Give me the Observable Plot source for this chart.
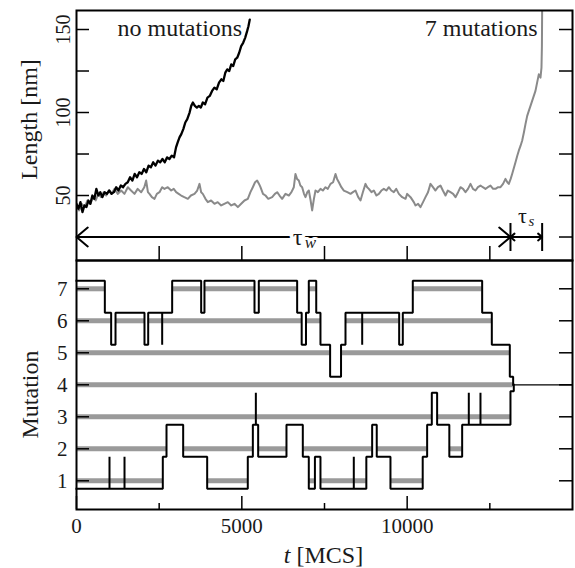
<!DOCTYPE html>
<html><head><meta charset="utf-8">
<script src="https://cdn.jsdelivr.net/npm/d3@7"></script>
<script src="https://cdn.jsdelivr.net/npm/@observablehq/plot@0.6"></script>
<style>
html,body{margin:0;padding:0;background:#fff;}
#chart{position:relative;width:575px;height:568px;}
#chart svg{display:block;}
#chart svg text{font-family:"Liberation Serif","DejaVu Serif",serif;}
</style></head><body><div id="chart"></div>
<script>
// ---- Top panel: length traces ----
const tNoMut = [0,60,120,180,240,300,360,420,480,540,600,660,720,780,850,920,990,1060,1130,1200,1270,1340,1410,1480,1550,1620,1690,1760,1830,1900,1970,2040,2110,2180,2250,2320,2390,2460,2530,2600,2670,2740,2810,2880,2950,3010,3060,3115,3170,3230,3290,3350,3420,3470,3520,3580,3640,3700,3760,3820,3890,3960,4030,4100,4170,4240,4310,4380,4440,4500,4560,4620,4680,4740,4800,4860,4920,4980,5040,5100,5160,5200,5240];
const lenNoMut = [45,42,46,40,44,43,47,45,50,48,54,50,52,49,52,51,53,51,52,55,53,56,55,57,58,61,59,63,61,64,63,66,64,68,67,70,68,71,70,72,70,73,72,74,73,79,82,85,87,90,94,96,100,104,106,104,103,104,103,106,105,109,110,113,115,114,118,120,119,124,126,125,129,128,132,133,136,140,142,145,149,152,156];
const tSeven = [0,80,160,250,330,420,500,580,660,740,820,900,980,1060,1150,1250,1351,1450,1552,1650,1754,1850,1956,2050,2107,2160,2207,2280,2359,2430,2510,2590,2661,2760,2863,2940,3014,3090,3165,3260,3367,3460,3568,3650,3720,3770,3820,3900,3972,4070,4173,4270,4375,4470,4576,4680,4778,4880,4980,5080,5181,5260,5332,5400,5463,5520,5564,5640,5715,5800,5917,6000,6068,6140,6219,6320,6421,6500,6572,6622,6670,6723,6770,6824,6880,6925,6980,7026,7080,7127,7180,7228,7300,7379,7450,7530,7600,7682,7760,7833,7880,7934,8010,8085,8190,8287,8360,8438,8520,8589,8660,8740,8790,8841,8920,8992,9070,9144,9220,9295,9370,9446,9520,9597,9670,9749,9850,9950,10000,10102,10201,10253,10330,10403,10480,10554,10630,10705,10780,10856,10930,11007,11080,11159,11230,11310,11390,11461,11540,11612,11690,11764,11840,11915,11990,12066,12140,12217,12290,12368,12440,12520,12600,12671,12750,12822,12900,12973,13030,13074,13130,13175,13276,13330,13376,13430,13477,13530,13578,13630,13679,13730,13780,13830,13880,13930,13981,14032,14062,14075,14082];
const lenSeven = [44,41,45,43,47,45,49,47,51,49,52,50,53,51,54,51,53,51,55,53,51,54,52,55,59,52,51,49,48,51,52,55,54,55,53,54,52,51,50,49,48,50,51,53,57,52,51,48,46,47,45,46,44,45,46,44,45,43,45,47,48,52,55,58,59,57,55,51,50,48,49,51,52,50,48,51,50,52,55,63,60,59,56,55,51,49,52,53,47,41,48,53,52,54,53,55,54,57,58,63,60,58,55,53,52,51,52,53,49,47,52,57,55,54,52,53,50,51,53,54,53,55,53,52,54,51,49,48,51,49,46,44,45,43,46,49,52,57,55,53,55,56,53,50,53,52,51,49,52,55,54,52,54,57,54,53,55,56,55,54,55,56,54,54,55,55,57,60,58,57,60,63,70,74,77,80,83,88,93,98,101,104,107,110,113,118,123,121,127,140,162];
const lengthTicks = [25,50,75,100,125,150];
const lengthLabels = [50,100,150];
const tauW = 13124;      // waiting time end
const tauEnd = 14082;    // elongation end
const arrowLength = 25;  // arrow drawn at this length value

// ---- Bottom panel: mutation trace ----
const upperT = [0,857,1048,1180,2056,2168,2591,2591,2893,3770,3870,5383,5513,6673,6810,6940,7025,7250,7378,7670,8000,8135,8640,8640,9758,9868,10170,12268,12560,13104,13205];
const upperLevel = [7.25,6.25,5.25,6.25,5.25,6.25,5.25,6.25,7.25,6.25,7.25,6.25,7.25,6.25,5.25,6.25,7.25,6.25,5.25,4.25,5.25,6.25,5.25,6.25,5.25,6.25,7.25,6.25,5.25,4.25,4];
const lowerT = [0,998,998,1452,1452,2610,2722,3226,3952,5180,5333,5424,5424,5494,6350,6844,7025,7210,7378,8386,8386,8765,8941,9080,9495,10470,10604,10745,10906,11275,11663,11864,11864,12217,12217,13124,13225];
const lowerLevel = [0.75,1.75,0.75,1.75,0.75,1.75,2.75,1.75,0.75,1.75,2.75,3.75,2.75,1.75,2.75,1.75,0.75,1.75,0.75,1.75,0.75,1.75,2.75,1.75,0.75,1.75,2.75,3.75,2.75,1.75,2.75,3.75,2.75,3.75,2.75,3.8,4];
const mutationLevels = [1,2,3,4,5,6,7];
const mergeLevel = 4;
const mergeT = 13205;
const tMax = 15000;
const timeTicksTop = [2500,5000,7500,10000,12500];
const timeTicksMajor = [0,5000,10000];
const timeTicksMinor = [2500,7500,12500];
const timeLabels = [0,5000,10000];

// ---- build tables ----
const noMut = tNoMut.map((t,i)=>({t, len:lenNoMut[i]}));
const seven = tSeven.map((t,i)=>({t, len:lenSeven[i]}));
const upper = upperT.map((t,i)=>({t, level:upperLevel[i]}));
const lower = lowerT.map((t,i)=>({t, level:lowerLevel[i]}));

function valueAt(ts, vs, a){ let v = vs[0]; for (let i=0;i<ts.length;i++){ if (ts[i] <= a) v = vs[i]; } return v; }
const allT = Array.from(new Set([...upperT, ...lowerT])).sort((a,b)=>a-b);
const grayRows = [];
const openSeg = {};
for (let j=0;j<allT.length-1;j++){
  const a = allT[j], b = allT[j+1];
  const u = valueAt(upperT, upperLevel, a), l = valueAt(lowerT, lowerLevel, a);
  for (const k of mutationLevels){
    if (l < k && k < u){
      if (openSeg[k] && openSeg[k].t1 === a) openSeg[k].t1 = b;
      else { openSeg[k] = {level:k, t0:a, t1:b}; grayRows.push(openSeg[k]); }
    }
  }
}

const W = 575, ML = 76, MR = 3;
const inner = W - ML - MR;
const topPlotH = 250, botPlotH = 249;
const font = "'Liberation Serif', 'DejaVu Serif', serif";
const barSymbol = {draw(ctx){ ctx.moveTo(0,-14); ctx.lineTo(0,14); }};
const ink = "#1a1a1a";

const topSvg = Plot.plot({
  width: W, height: 260, marginLeft: ML, marginRight: MR, marginTop: 10, marginBottom: 0,
  x: {domain: [0, tMax], axis: null},
  y: {domain: [10.85, 161.45], axis: null},
  style: {fontFamily: font, fontSize: "20px", background: "white", overflow: "visible"},
  marks: [
    Plot.line(seven, {x: "t", y: "len", stroke: "#8a8a8a", strokeWidth: 2, clip: true}),
    Plot.line(noMut, {x: "t", y: "len", stroke: "black", strokeWidth: 2.3, clip: true}),
    Plot.ruleY(lengthTicks, {y: d=>d, insetRight: inner-13, stroke: "black", strokeWidth: 1.5}),
    Plot.ruleY(lengthTicks, {y: d=>d, insetLeft: inner-13, stroke: "black", strokeWidth: 1.5}),
    Plot.ruleX(timeTicksTop, {x: d=>d, insetTop: topPlotH-14, stroke: "black", strokeWidth: 1.5}),
    Plot.arrow([{a: tauW/2, b: 0}, {a: tauW/2, b: tauW}, {a: (tauW+tauEnd)/2, b: tauW}, {a: (tauW+tauEnd)/2, b: tauEnd}], {
      x1: "a", x2: "b", y1: ()=>arrowLength, y2: ()=>arrowLength,
      stroke: "black", strokeWidth: 2, headLength: 11, headAngle: 80
    }),
    Plot.dot([tauW, tauEnd], {x: d=>d, y: ()=>arrowLength, symbol: barSymbol, stroke: "black", strokeWidth: 2, fill: "none"}),
    Plot.text([tauW/2], {x: d=>d, y: ()=>arrowLength, text: ()=>"τ", dx: 4, fontSize: 24, stroke: "white", strokeWidth: 7, fill: ink, lineAnchor: "middle"}),
    Plot.text([tauW/2], {x: d=>d, y: ()=>arrowLength, text: ()=>"w", dx: 17, dy: 6, fontSize: 17, fontStyle: "italic", stroke: "white", strokeWidth: 6, fill: ink, lineAnchor: "middle"}),
    Plot.text([(tauW+tauEnd)/2], {x: d=>d, y: ()=>arrowLength, text: ()=>"τ", dx: -4, dy: -21, fontSize: 22, fill: ink, lineAnchor: "middle"}),
    Plot.text([(tauW+tauEnd)/2], {x: d=>d, y: ()=>arrowLength, text: ()=>"s", dx: 5, dy: -16, fontSize: 15, fontStyle: "italic", fill: ink, lineAnchor: "middle"}),
    Plot.frame({stroke: "black", strokeWidth: 2}),
    Plot.text(lengthLabels, {y: d=>d, text: d=>String(d), frameAnchor: "left", dx: -12.5, rotate: -90, textAnchor: "middle", lineAnchor: "middle", fontSize: 20, fill: ink}),
    Plot.text(["Length [nm]"], {text: d=>d, frameAnchor: "top-left", dx: -47, dy: 109, rotate: -90, textAnchor: "middle", lineAnchor: "middle", fontSize: 24, fill: ink}),
    Plot.text(["no mutations"], {text: d=>d, frameAnchor: "top-left", dx: 41, dy: 17.6, textAnchor: "start", lineAnchor: "middle", fontSize: 24, fill: ink}),
    Plot.text(["7 mutations"], {text: d=>d, frameAnchor: "top-right", dx: -35, dy: 17.6, textAnchor: "end", lineAnchor: "middle", fontSize: 24, fill: ink})
  ]
});

const botSvg = Plot.plot({
  width: W, height: 308, marginLeft: ML, marginRight: MR, marginTop: 0, marginBottom: 59,
  x: {domain: [0, tMax], axis: null},
  y: {domain: [0.103, 7.884], axis: null},
  style: {fontFamily: font, fontSize: "20px", background: "white", overflow: "visible"},
  marks: [
    Plot.ruleY(grayRows, {y: "level", x1: "t0", x2: "t1", stroke: "#9a9a9a", strokeWidth: 5}),
    Plot.ruleY([mergeLevel], {y: d=>d, x1: ()=>mergeT, x2: ()=>tMax, stroke: "black", strokeWidth: 1.2}),
    Plot.line(upper, {x: "t", y: "level", curve: "step-after", stroke: "black", strokeWidth: 2, strokeLinejoin: "miter", strokeLinecap: "square"}),
    Plot.line(lower, {x: "t", y: "level", curve: "step-after", stroke: "black", strokeWidth: 2, strokeLinejoin: "miter", strokeLinecap: "square"}),
    Plot.ruleY(mutationLevels, {y: d=>d, insetRight: inner-13, stroke: "black", strokeWidth: 1.5}),
    Plot.ruleY(mutationLevels, {y: d=>d, insetLeft: inner-13, stroke: "black", strokeWidth: 1.5}),
    Plot.ruleX(timeTicksMajor, {x: d=>d, insetTop: botPlotH-13, stroke: "black", strokeWidth: 1.5}),
    Plot.ruleX(timeTicksMinor, {x: d=>d, insetTop: botPlotH-6, stroke: "black", strokeWidth: 1.5}),
    Plot.frame({stroke: "black", strokeWidth: 2}),
    Plot.text(mutationLevels, {y: d=>d, text: d=>String(d), frameAnchor: "left", dx: -9, textAnchor: "end", lineAnchor: "middle", fontSize: 21, fill: ink}),
    Plot.text(timeLabels, {x: d=>d, text: d=>String(d), frameAnchor: "bottom", dy: 17, lineAnchor: "middle", fontSize: 21, fill: ink}),
    Plot.text(["Mutation"], {text: d=>d, frameAnchor: "left", dx: -46, dy: 9.5, rotate: -90, textAnchor: "middle", lineAnchor: "middle", fontSize: 24, fill: ink}),
    Plot.text(["t"], {text: d=>d, frameAnchor: "bottom", dx: -40.7, dy: 46, textAnchor: "start", lineAnchor: "middle", fontSize: 24, fontStyle: "italic", fill: ink}),
    Plot.text(["[MCS]"], {text: d=>d, frameAnchor: "bottom", dx: -28, dy: 46, textAnchor: "start", lineAnchor: "middle", fontSize: 24, fill: ink})
  ]
});

const chart = document.getElementById("chart");
chart.appendChild(topSvg);
chart.appendChild(botSvg);
</script>
</body></html>
